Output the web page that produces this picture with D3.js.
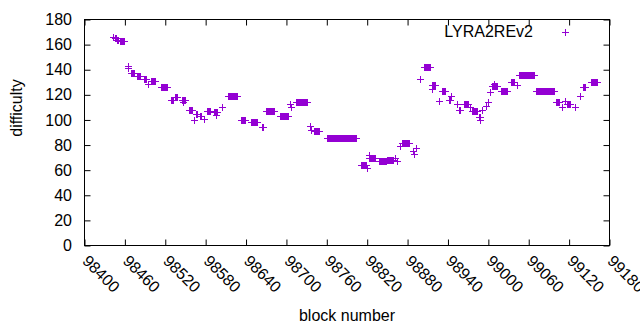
<!DOCTYPE html>
<html>
<head>
<meta charset="utf-8">
<script src="https://cdn.jsdelivr.net/npm/d3@7"></script>
<style>
  body { margin: 0; background: #fff; }
  svg text { font-family: "Liberation Sans", Arial, sans-serif; font-size: 16px; fill: #000; }
</style>
</head>
<body>
<svg id="chart" width="640" height="330"></svg>
<script>
// runs of blocks that share one difficulty value (start block, end block, difficulty)
var runStart = [98443, 98445, 98449, 98452, 98464, 98465, 98469, 98478, 98488, 98495,
  98499, 98513, 98529, 98534, 98545, 98547, 98555, 98562, 98565, 98571,
  98577, 98582, 98592, 98595, 98605, 98613, 98632, 98648, 98663, 98669,
  98691, 98706, 98707, 98714, 98735, 98737, 98741, 98760, 98811, 98820,
  98822, 98823, 98838, 98850, 98862, 98864, 98868, 98872, 98888, 98890,
  98893, 98899, 98905, 98916, 98917, 98927, 98931, 98941, 98945, 98953,
  98957, 98964, 98972, 98976, 98986, 98987, 98991, 98996, 98999, 99003,
  99006, 99008, 99019, 99034, 99042, 99046, 99071, 99101, 99110, 99114,
  99117, 99128, 99136, 99140, 99153];
var runEnd = [98443, 98447, 98450, 98458, 98464, 98465, 98474, 98482, 98491, 98495,
  98504, 98522, 98531, 98537, 98549, 98547, 98559, 98562, 98567, 98573,
  98577, 98586, 98597, 98595, 98605, 98627, 98639, 98657, 98665, 98681,
  98702, 98706, 98707, 98730, 98735, 98737, 98749, 98803, 98818, 98820,
  98822, 98832, 98848, 98858, 98862, 98864, 98868, 98882, 98888, 98890,
  98893, 98899, 98914, 98921, 98917, 98927, 98935, 98943, 98945, 98953,
  98958, 98970, 98972, 98983, 98988, 98987, 98991, 98996, 98999, 99003,
  99013, 99008, 99028, 99038, 99042, 99068, 99098, 99105, 99110, 99114,
  99122, 99128, 99136, 99144, 99161];
var runDiff = [166, 165, 164, 163, 143, 141, 137, 135, 133, 129,
  131, 126, 116, 118, 116, 114, 108, 100, 105, 103,
  101, 107, 106, 104, 110, 119, 100, 98, 94, 107,
  103, 113, 110, 114, 95, 92, 91, 86, 64, 62,
  72, 70, 67, 68, 70, 67, 79, 82, 75, 73,
  78, 133, 142, 128, 125, 115, 123, 116, 119, 113,
  108, 113, 110, 107, 102, 100, 108, 111, 114, 122,
  127, 129, 123, 130, 128, 136, 123, 114, 110, 115,
  113, 110, 119, 126, 130];

var xTicks = [98400, 98460, 98520, 98580, 98640, 98700, 98760, 98820, 98880, 98940, 99000, 99060, 99120, 99180];
var yTicks = [0, 20, 40, 60, 80, 100, 120, 140, 160, 180];
var seriesName = 'LYRA2REv2';
var seriesColor = '#9400d3';

var plotLeft = 84.5, plotRight = 609.5, plotTop = 19.5, plotBottom = 245.5;
var svg = d3.select('#chart');

var x = d3.scaleLinear().domain([98400, 99180]).range([plotLeft, plotRight]);
var y = d3.scaleLinear().domain([0, 180]).range([plotBottom, plotTop]);

// one point per block inside each run
var points = [];
runStart.forEach(function(s, i) {
  d3.range(s, runEnd[i] + 1).forEach(function(b) {
    points.push({block: b, diff: runDiff[i]});
  });
});

var tickLen = 6;

function noDomain(g) { g.select('.domain').remove(); }

// axes, ticks pointing inward, mirrored on top and right
svg.append('g')
  .attr('transform', 'translate(0,' + plotBottom + ')')
  .call(d3.axisBottom(x).tickValues(xTicks).tickSizeInner(-tickLen).tickSizeOuter(0).tickFormat(''))
  .call(noDomain);
svg.append('g')
  .attr('transform', 'translate(0,' + plotTop + ')')
  .call(d3.axisTop(x).tickValues(xTicks).tickSizeInner(-tickLen).tickSizeOuter(0).tickFormat(''))
  .call(noDomain);
svg.append('g')
  .attr('transform', 'translate(' + plotLeft + ',0)')
  .call(d3.axisLeft(y).tickValues(yTicks).tickSizeInner(-tickLen).tickSizeOuter(0).tickFormat(''))
  .call(noDomain);
svg.append('g')
  .attr('transform', 'translate(' + plotRight + ',0)')
  .call(d3.axisRight(y).tickValues(yTicks).tickSizeInner(-tickLen).tickSizeOuter(0).tickFormat(''))
  .call(noDomain);

svg.selectAll('.tick line').attr('stroke', '#000');

svg.append('rect')
  .attr('x', plotLeft).attr('y', plotTop)
  .attr('width', plotRight - plotLeft).attr('height', plotBottom - plotTop)
  .attr('fill', 'none').attr('stroke', '#000');

// tick labels
svg.append('g').selectAll('text').data(yTicks).enter().append('text')
  .attr('x', 72)
  .attr('y', function(d) { return y(d); })
  .attr('dy', '0.35em')
  .attr('text-anchor', 'end')
  .text(function(d) { return d; });

svg.append('g').selectAll('text').data(xTicks).enter().append('text')
  .attr('transform', function(d) { return 'translate(' + (x(d) + 1) + ',' + 258 + ') rotate(45)'; })
  .attr('dy', '0.35em')
  .attr('text-anchor', 'start')
  .text(function(d) { return d; });

svg.append('text')
  .attr('x', (plotLeft + plotRight) / 2).attr('y', 321)
  .attr('text-anchor', 'middle')
  .text('block number');

svg.append('text')
  .attr('transform', 'translate(22,108) rotate(-90)')
  .attr('text-anchor', 'middle')
  .text('difficulty');

var cross = 'M-3.5,0H3.5M0,-3.5V3.5';

svg.append('g').selectAll('path').data(points).enter().append('path')
  .attr('transform', function(d) {
    return 'translate(' + (Math.round(x(d.block)) + 0.5) + ',' + (Math.round(y(d.diff)) + 0.5) + ')';
  })
  .attr('d', cross)
  .attr('fill', 'none')
  .attr('stroke', seriesColor)
  .attr('stroke-width', 1);

// legend
svg.append('text')
  .attr('x', 533).attr('y', 37)
  .attr('text-anchor', 'end')
  .text(seriesName);
svg.append('path')
  .attr('transform', 'translate(565.5,32.5)')
  .attr('d', cross)
  .attr('fill', 'none')
  .attr('stroke', seriesColor);
</script>
</body>
</html>
